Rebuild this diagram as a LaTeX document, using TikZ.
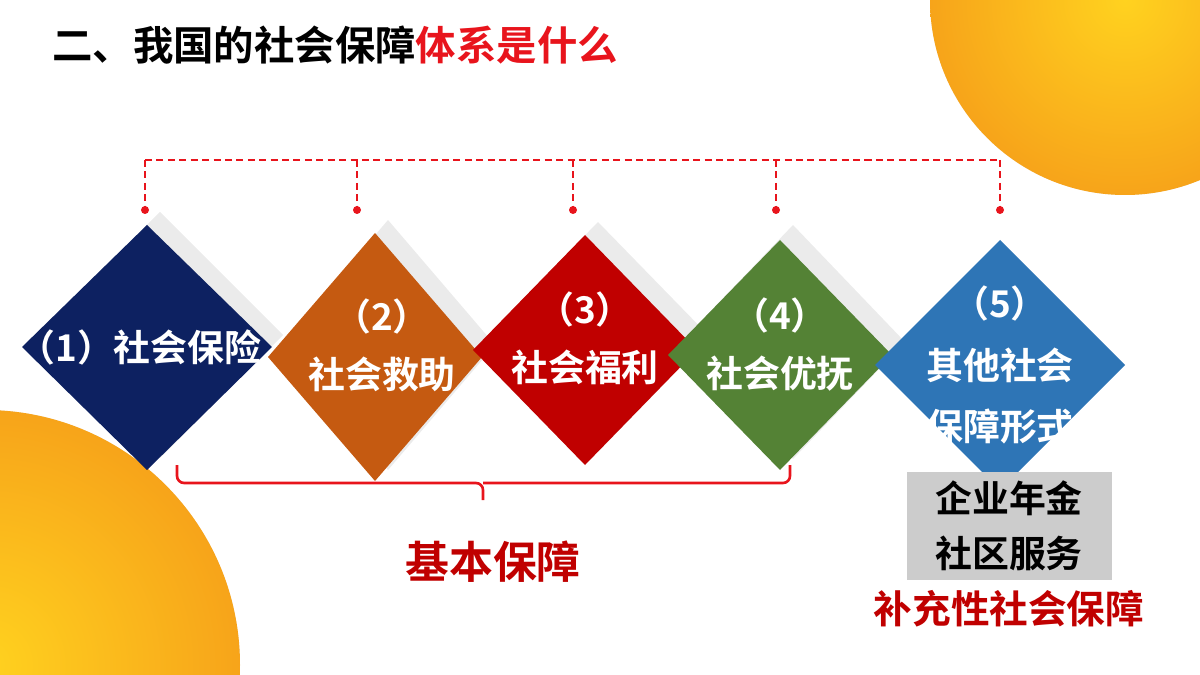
\documentclass[tikz,border=0pt]{standalone}
\usepackage{fontspec}
\setmainfont{Noto Sans CJK SC}
\newfontfamily\cjk{Noto Sans CJK SC Bold}
\usetikzlibrary{positioning,shadows}
\definecolor{navyC}{HTML}{0D2161}
\definecolor{orangeC}{HTML}{C55A11}
\definecolor{redC}{HTML}{C00000}
\definecolor{greenC}{HTML}{548235}
\definecolor{blueC}{HTML}{2E75B6}
\definecolor{lineC}{HTML}{E8141C}
\definecolor{sunA}{HTML}{FFD21F}
\definecolor{sunB}{HTML}{F7A41A}
\tikzset{
  diam/.style={fill=#1, draw=none},
  shade/.style={fill=black!8, draw=none},
  ttl/.style={font=\cjk\fontsize{21}{25}\selectfont, text=white, align=center},
  redline/.style={lineC, dash pattern=on 4pt off 2.5pt, line width=1.2pt},
}
\begin{document}
\begin{tikzpicture}[x=0.02cm,y=-0.02cm]
  \useasboundingbox (0,0) rectangle (1200,675);
  % suns
  \begin{scope}
    \clip (0,0) rectangle (1200,675);
    \shade[inner color=sunA, outer color=sunB] (1125,0) circle (195);
    \shade[inner color=sunA, outer color=sunB] (-15,665) circle (255);
  \end{scope}
  % title
  \node[anchor=west, font=\cjk\fontsize{23}{28}\selectfont] (title) at (46,45) {二、我国的社会保障\textcolor{lineC}{体系是什么}};
  % dashed connectors
  \draw[redline] (145,160) -- (1000,160);
  \foreach \x in {145,357,573,776,1000}{
    \coordinate (d\x) at (\x,210);
    \draw[redline] (\x,160) -- (d\x);
    \fill[lineC] (d\x) circle (4);
  }
  % diamonds (shadows first)
  \fill[shade] (160,212) -- (283,335) -- (160,458) -- (37,335) -- cycle;
  \fill[shade] (388,220) -- (495,345) -- (388,470) -- (281,345) -- cycle;
  \fill[shade] (598,222) -- (710,337) -- (598,452) -- (486,337) -- cycle;
  \fill[shade] (793,225) -- (905,342) -- (793,459) -- (681,342) -- cycle;
  \fill[diam=navyC] (147,225) -- (272,347) -- (147,470) -- (22,347) -- cycle;
  \fill[diam=orangeC] (375,233) -- (482,357) -- (375,481) -- (268,357) -- cycle;
  \fill[diam=redC] (585,235) -- (697,350) -- (585,465) -- (473,350) -- cycle;
  \fill[diam=greenC] (780,240) -- (892,355) -- (780,470) -- (668,355) -- cycle;
  \fill[diam=blueC] (1000,240) -- (1125,365) -- (1000,490) -- (875,365) -- cycle;
  \node[ttl] (ins) at (140,347) {（1）社会保险};
  \node[ttl] (aid) at (382,345) {（2）\\[8pt]社会救助};
  \node[ttl] (wel) at (585,338) {（3）\\[8pt]社会福利};
  \node[ttl] (pref) at (780,345) {（4）\\[8pt]社会优抚};
  \node[ttl] (other) at (1000,365) {（5）\\[10pt]其他社会\\[10pt]保障形式};
  % bracket
  \draw[lineC, line width=1.5pt, rounded corners=4] (177,465) -- (177,483) -- (483,483) -- (483,500);
  \draw[lineC, line width=1.5pt, rounded corners=4] (790,465) -- (790,483) -- (483,483);
  \node[font=\cjk\fontsize{25}{30}\selectfont, text=redC] (basic) at (493,562) {基本保障};
  % supplementary
  \node[fill=black!20, minimum width=205*0.02cm, minimum height=108*0.02cm, font=\cjk\fontsize{21}{31}\selectfont, align=center] (supp) at (1009,526) {企业年金\\社区服务};
  \node[font=\cjk\fontsize{22}{26}\selectfont, text=redC, below=2pt of supp] (suppl) {补充性社会保障};
\end{tikzpicture}
\end{document}
